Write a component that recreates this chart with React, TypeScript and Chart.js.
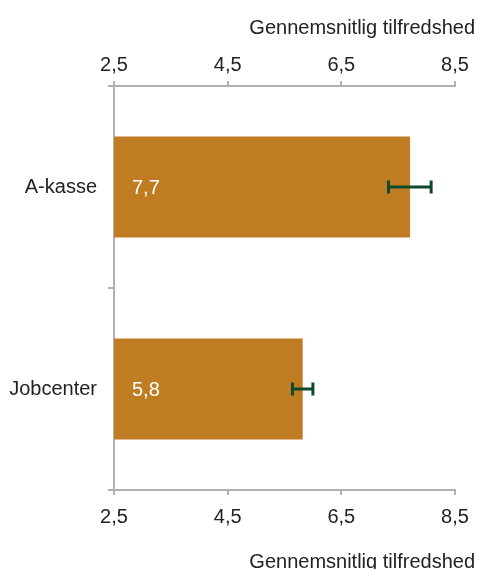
import React, { useEffect, useRef } from "react";
import { Chart, registerables } from "chart.js";

Chart.register(...registerables);

const categories = ["A-kasse", "Jobcenter"];
const values = [7.71, 5.82];
const errorLow = [7.33, 5.64];
const errorHigh = [8.08, 6.0];
const tickValues = [2.5, 4.5, 6.5, 8.5];
const axisTitle = "Gennemsnitlig tilfredshed";

const FONT = "'Liberation Sans', Arial, sans-serif";
const TEXT = "#222222";
const AXIS = "#b0b0b0";
const BAR = "#c07c22";
const ERR = "#0d4a2c";

const fmt = (v: number) => v.toFixed(1).replace(".", ",");

const overlayPlugin = {
  id: "overlay",
  afterDatasetsDraw(chart: any) {
    const ctx = chart.ctx;
    const meta = chart.getDatasetMeta(0);
    const xs = chart.scales.x;
    const baseX = xs.getPixelForValue(xs.min);
    ctx.save();
    meta.data.forEach((bar: any, i: number) => {
      const y = bar.y;
      ctx.fillStyle = "#ffffff";
      ctx.font = `20px ${FONT}`;
      ctx.textAlign = "left";
      ctx.textBaseline = "middle";
      ctx.fillText(fmt(values[i]), baseX + 18, y + 1);
      const x1 = xs.getPixelForValue(errorLow[i]);
      const x2 = xs.getPixelForValue(errorHigh[i]);
      ctx.strokeStyle = ERR;
      ctx.lineWidth = 3;
      ctx.beginPath();
      ctx.moveTo(x1, y);
      ctx.lineTo(x2, y);
      ctx.moveTo(x1, y - 6.5);
      ctx.lineTo(x1, y + 6.5);
      ctx.moveTo(x2, y - 6.5);
      ctx.lineTo(x2, y + 6.5);
      ctx.stroke();
    });
    ctx.restore();
  },
};

export default function App() {
  const ref = useRef<HTMLCanvasElement | null>(null);
  useEffect(() => {
    if (!ref.current) return;
    const xAxisCommon = (position: "top" | "bottom", pad: number) => ({
      type: "linear" as const,
      position,
      min: 2.5,
      max: 8.5,
      afterBuildTicks: (s: any) => {
        s.ticks = tickValues.map((v) => ({ value: v }));
      },
      afterFit: (s: any) => {
        s.paddingRight = 23;
      },
      grid: {
        drawOnChartArea: false,
        drawTicks: true,
        tickLength: 5,
        color: AXIS,
        lineWidth: 2,
      },
      border: { display: true, color: AXIS, width: 2 },
      ticks: {
        padding: pad,
        color: TEXT,
        font: { family: FONT, size: 20 },
        callback: (v: any) => fmt(Number(v)),
      },
    });
    const chart = new Chart(ref.current, {
      type: "bar",
      data: {
        labels: categories,
        datasets: [
          {
            data: values,
            backgroundColor: BAR,
            barPercentage: 0.5,
            categoryPercentage: 1,
            xAxisID: "x",
          },
        ],
      },
      options: {
        indexAxis: "y",
        animation: false,
        responsive: false,
        devicePixelRatio: 1,
        layout: { padding: { left: 0, right: 3, top: 0, bottom: 0 } },
        plugins: {
          legend: { display: false },
          tooltip: { enabled: false },
          title: {
            display: true,
            text: axisTitle,
            align: "end",
            position: "top",
            color: TEXT,
            font: { family: FONT, size: 20, weight: "normal" },
            padding: { top: 16, bottom: 9 },
          },
          subtitle: {
            display: true,
            text: axisTitle,
            align: "end",
            position: "bottom",
            color: TEXT,
            font: { family: FONT, size: 20, weight: "normal", lineHeight: 0.7 },
            padding: { top: 16, bottom: 0 },
          },
        },
        scales: {
          x: xAxisCommon("bottom", 10),
          x2: xAxisCommon("top", 4),
          y: {
            type: "category",
            position: "left",
            afterFit: (s: any) => {
              s.width = 114;
            },
            grid: {
              offset: true,
              drawOnChartArea: false,
              drawTicks: true,
              tickLength: 6,
              color: AXIS,
              lineWidth: 2,
            },
            border: { display: true, color: AXIS, width: 2 },
            ticks: {
              padding: 11,
              color: TEXT,
              font: { family: FONT, size: 20 },
            },
          },
        },
      } as any,
      plugins: [overlayPlugin],
    });
    return () => chart.destroy();
  }, []);
  return (
    <div style={{ position: "absolute", left: 0, top: 0, width: 478, height: 569 }}>
      <canvas ref={ref} width={478} height={569} style={{ display: "block" }} />
    </div>
  );
}
